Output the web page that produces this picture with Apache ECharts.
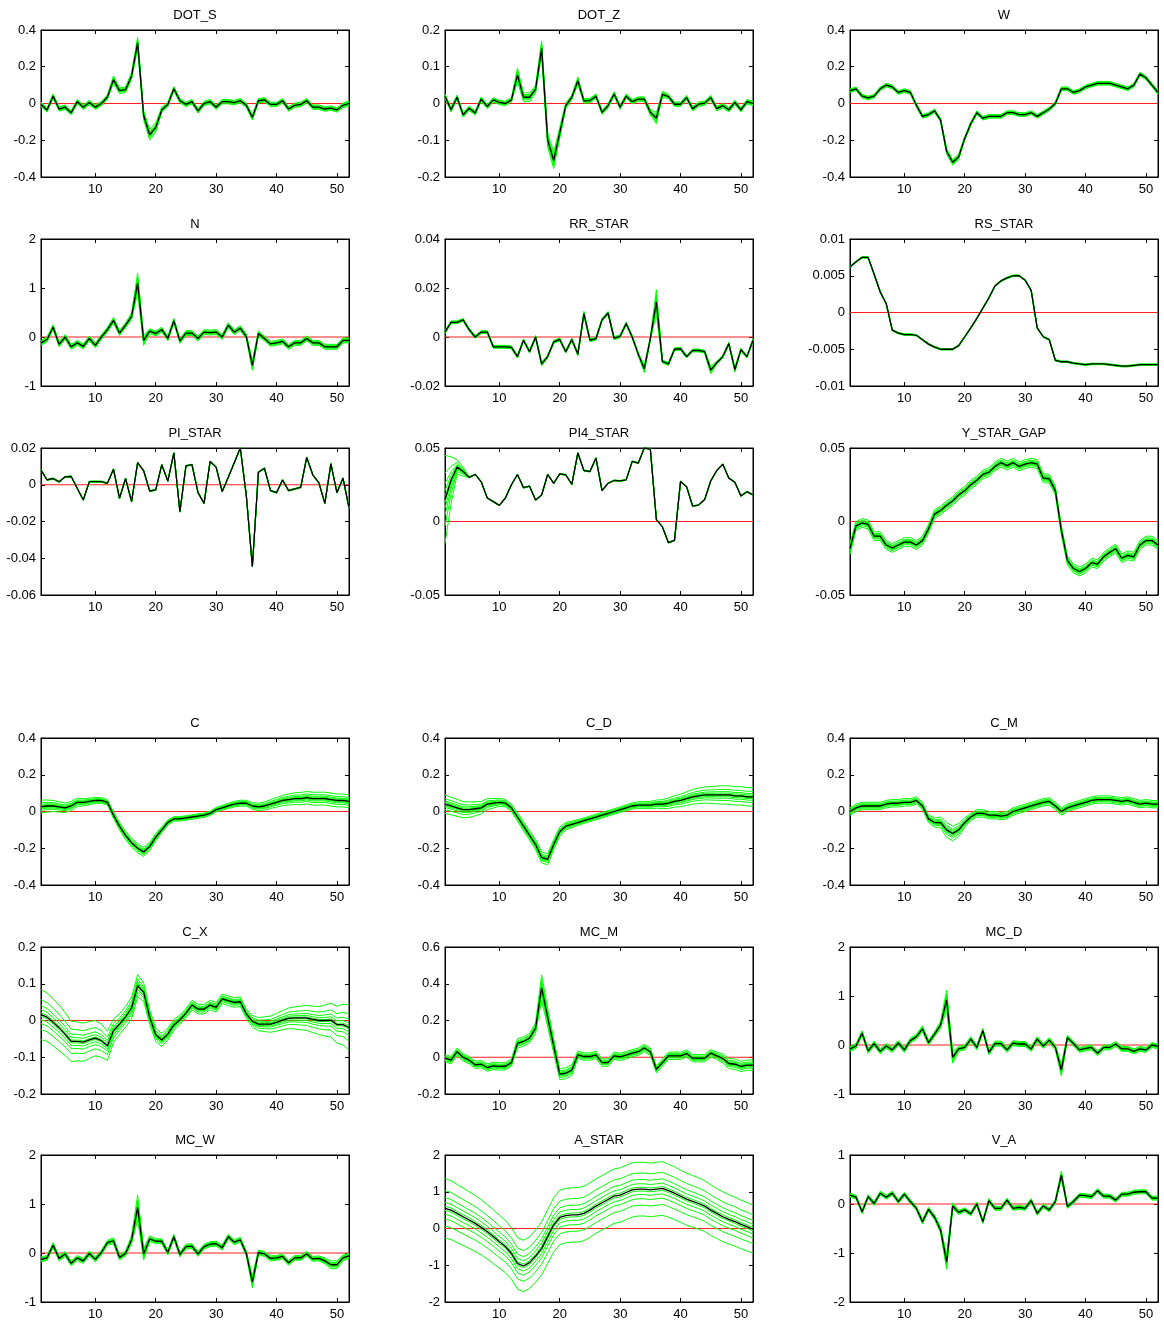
<!DOCTYPE html>
<html>
<head>
<meta charset="utf-8">
<title>IRF panels</title>
<script src="https://cdn.jsdelivr.net/npm/echarts@6.0.0/dist/echarts.min.js"></script>
<style>
  html, body { margin: 0; padding: 0; background: #fff; }
  #main { width: 1164px; height: 1322px; }
</style>
</head>
<body>
<div id="main"></div>
<script>
// periods on the x axis
var steps = [1,2,3,4,5,6,7,8,9,10,
  11,12,13,14,15,16,17,18,19,20,
  21,22,23,24,25,26,27,28,29,30,
  31,32,33,34,35,36,37,38,39,40,
  41,42,43,44,45,46,47,48,49,50,
  51,52];
var xTicks = [10, 20, 30, 40, 50];

// y tick labels for each panel
var ticksDotS = [-0.4, -0.2, 0, 0.2, 0.4];
var ticksDotZ = [-0.2, -0.1, 0, 0.1, 0.2];
var ticksW = [-0.4, -0.2, 0, 0.2, 0.4];
var ticksN = [-1, 0, 1, 2];
var ticksRR = [-0.02, 0, 0.02, 0.04];
var ticksRS = [-0.01, -0.005, 0, 0.005, 0.01];
var ticksPi = [-0.06, -0.04, -0.02, 0, 0.02];
var ticksPi4 = [-0.05, 0, 0.05];
var ticksYsg = [-0.05, 0, 0.05];
var ticksC = [-0.4, -0.2, 0, 0.2, 0.4];
var ticksCD = [-0.4, -0.2, 0, 0.2, 0.4];
var ticksCM = [-0.4, -0.2, 0, 0.2, 0.4];
var ticksCX = [-0.2, -0.1, 0, 0.1, 0.2];
var ticksMcM = [-0.2, 0, 0.2, 0.4, 0.6];
var ticksMcD = [-1, 0, 1, 2];
var ticksMcW = [-1, 0, 1, 2];
var ticksA = [-2, -1, 0, 1, 2];
var ticksVA = [-2, -1, 0, 1];

// median paths (black)
var dotS = [-0.005,-0.035,0.04,-0.03,-0.02,-0.05,0.01,-0.02,0.005,-0.02,
  0,0.035,0.13,0.07,0.075,0.15,0.33,-0.065,-0.17,-0.13,
  -0.035,-0.005,0.08,0.015,-0.005,0.01,-0.04,0,0.01,-0.02,
  0.01,0.01,0.005,0.015,-0.01,-0.075,0.015,0.02,-0.005,-0.005,
  0.015,-0.03,-0.01,-0.005,0.015,-0.02,-0.02,-0.03,-0.025,-0.035,
  -0.01,0];
var dotZ = [0.02,-0.017,0.017,-0.031,-0.013,-0.026,0.012,-0.008,0.01,0.003,
  0,0.01,0.078,0.017,0.017,0.039,0.15,-0.099,-0.155,-0.08,
  -0.006,0.017,0.062,0.007,0.008,0.02,-0.024,-0.006,0.026,-0.01,
  0.02,0.005,0.012,0.012,-0.024,-0.04,0.025,0.019,-0.002,-0.002,
  0.016,-0.014,-0.002,0.001,0.016,-0.014,-0.006,-0.017,0.003,-0.017,
  0.005,0];
var w = [0.07,0.08,0.04,0.03,0.04,0.08,0.1,0.09,0.06,0.07,
  0.06,-0.01,-0.07,-0.06,-0.04,-0.09,-0.26,-0.32,-0.29,-0.19,
  -0.11,-0.05,-0.08,-0.07,-0.07,-0.07,-0.05,-0.05,-0.06,-0.06,
  -0.05,-0.07,-0.05,-0.03,0,0.08,0.08,0.06,0.07,0.09,
  0.1,0.11,0.11,0.11,0.1,0.09,0.08,0.1,0.16,0.14,
  0.1,0.06];
var n = [-0.12,-0.05,0.2,-0.15,0,-0.2,-0.12,-0.19,-0.03,-0.17,
  0,0.15,0.34,0.08,0.24,0.42,1.1,-0.07,0.12,0.07,
  0.15,-0.03,0.33,-0.08,0.08,0.08,-0.03,0.1,0.09,0.1,
  0,0.24,0.1,0.18,0.01,-0.58,0.07,-0.03,-0.14,-0.12,
  -0.09,-0.2,-0.12,-0.12,-0.03,-0.12,-0.12,-0.2,-0.2,-0.2,
  -0.07,-0.07];
var rrStar = [0.002,0.006,0.006,0.007,0.003,0,0.002,0.002,-0.004,-0.004,
  -0.004,-0.0042,-0.008,-0.0013,-0.006,0,-0.011,-0.008,-0.002,-0.001,
  -0.006,-0.001,-0.007,0.0095,-0.0013,-0.0007,0.007,0.0098,-0.0005,0.0003,
  0.0055,0,-0.007,-0.013,-0.0007,0.0143,-0.01,-0.011,-0.005,-0.0048,
  -0.008,-0.0055,-0.0055,-0.006,-0.0135,-0.0105,-0.008,-0.0027,-0.0133,-0.0052,
  -0.008,-0.0013];
var rsStar = [0.0062,0.0069,0.0075,0.0075,0.0052,0.0028,0.0012,-0.0024,-0.0028,-0.003,
  -0.003,-0.0031,-0.0037,-0.0043,-0.0047,-0.005,-0.005,-0.005,-0.0045,-0.0033,
  -0.0021,-0.0008,0.0006,0.002,0.0036,0.0043,0.0047,0.005,0.005,0.0044,
  0.003,-0.0021,-0.0033,-0.0037,-0.0065,-0.0067,-0.0067,-0.0069,-0.007,-0.0071,
  -0.007,-0.007,-0.007,-0.0071,-0.0072,-0.0073,-0.0073,-0.0072,-0.0071,-0.0071,
  -0.0071,-0.0071];
var piStar = [0.008,0.0026,0.0034,0.0016,0.0043,0.0045,-0.0019,-0.0083,0.0017,0.0017,
  0.0017,0.0008,0.0085,-0.0074,0.0034,-0.0092,0.012,0.0076,-0.0034,-0.0028,
  0.0109,0.002,0.0173,-0.0147,0.0103,0.0109,-0.0043,-0.0101,0.0127,0.0096,
  -0.0037,0.004,0.012,0.02,-0.006,-0.0445,0.0068,0.009,-0.0032,-0.0043,
  0.0026,-0.0032,-0.0023,-0.0014,0.0149,0.0054,0.0012,-0.0101,0.0114,-0.0043,
  0.0036,-0.0125];
var pi4Star = [0.015,0.028,0.037,0.034,0.03,0.032,0.027,0.016,0.0135,0.011,
  0.016,0.025,0.032,0.023,0.024,0.0146,0.018,0.032,0.026,0.0324,
  0.0317,0.0253,0.0466,0.0347,0.034,0.0432,0.021,0.026,0.0279,0.0276,
  0.0283,0.0409,0.0397,0.05,0.0493,0.0014,-0.0037,-0.0144,-0.0128,0.0272,
  0.0237,0.0105,0.0112,0.015,0.0276,0.0347,0.039,0.0295,0.0267,0.0174,
  0.0203,0.018];
var yStarGap = [-0.0185,-0.003,-0.001,-0.002,-0.01,-0.01,-0.016,-0.018,-0.016,-0.014,
  -0.014,-0.016,-0.013,-0.005,0.005,0.0075,0.011,0.014,0.018,0.021,
  0.025,0.028,0.032,0.0335,0.0375,0.04,0.038,0.04,0.0375,0.039,
  0.04,0.039,0.0295,0.029,0.021,-0.006,-0.0265,-0.032,-0.034,-0.032,
  -0.028,-0.029,-0.024,-0.021,-0.0185,-0.025,-0.023,-0.024,-0.016,-0.013,
  -0.013,-0.016];
var c = [0.027,0.03,0.03,0.025,0.02,0.03,0.05,0.05,0.055,0.06,
  0.06,0.05,-0.02,-0.08,-0.13,-0.17,-0.2,-0.22,-0.19,-0.14,
  -0.1,-0.06,-0.04,-0.04,-0.035,-0.03,-0.025,-0.02,-0.01,0.01,
  0.02,0.03,0.04,0.045,0.045,0.03,0.025,0.03,0.04,0.05,
  0.06,0.065,0.07,0.07,0.075,0.07,0.07,0.07,0.065,0.06,
  0.06,0.055];
var cD = [0.04,0.03,0.02,0.01,0.01,0.015,0.02,0.04,0.045,0.05,
  0.045,0.02,-0.03,-0.08,-0.13,-0.18,-0.25,-0.26,-0.18,-0.11,
  -0.08,-0.07,-0.06,-0.05,-0.04,-0.03,-0.02,-0.01,0,0.01,
  0.02,0.03,0.035,0.035,0.035,0.04,0.04,0.045,0.055,0.06,
  0.07,0.08,0.085,0.09,0.09,0.09,0.09,0.09,0.085,0.085,
  0.08,0.08];
var cM = [0,0.02,0.03,0.03,0.03,0.03,0.04,0.045,0.045,0.05,
  0.05,0.06,0.03,-0.04,-0.06,-0.06,-0.1,-0.12,-0.1,-0.06,
  -0.03,-0.01,-0.01,-0.02,-0.02,-0.025,-0.02,0,0.01,0.02,
  0.03,0.04,0.05,0.055,0.03,0,0.02,0.03,0.04,0.05,
  0.06,0.065,0.065,0.065,0.06,0.055,0.06,0.05,0.04,0.045,
  0.04,0.04];
var cX = [0.016,0.009,-0.005,-0.02,-0.037,-0.057,-0.057,-0.059,-0.053,-0.048,
  -0.055,-0.069,-0.028,-0.01,0.01,0.034,0.095,0.077,0.009,-0.039,
  -0.053,-0.037,-0.012,0.002,0.02,0.042,0.031,0.031,0.042,0.036,
  0.059,0.054,0.049,0.051,0.018,-0.002,-0.01,-0.01,-0.01,-0.005,
  0.001,0.006,0.007,0.007,0.007,0.003,0,0,0.001,-0.011,
  -0.011,-0.019];
var mcM = [-0.005,-0.016,0.03,0,-0.016,-0.041,-0.038,-0.056,-0.047,-0.05,
  -0.049,-0.029,0.075,0.086,0.104,0.159,0.378,0.217,0.062,-0.092,
  -0.087,-0.07,0.013,0.004,0.004,0.013,-0.029,-0.029,0.008,0.002,
  0.011,0.022,0.03,0.05,0.03,-0.065,-0.029,0.008,0.008,0.008,
  0.02,-0.005,-0.005,-0.005,0.022,0.008,-0.007,-0.034,-0.038,-0.05,
  -0.043,-0.043];
var mcD = [-0.08,-0.02,0.24,-0.12,0.03,-0.13,-0.02,-0.1,0.04,-0.1,
  0.09,0.17,0.33,0.05,0.22,0.41,0.92,-0.25,-0.08,-0.05,
  0.12,-0.05,0.29,-0.15,0.03,0.03,-0.1,0.04,0.02,0.02,
  -0.08,0.12,-0.02,0.1,-0.05,-0.51,0.15,0.03,-0.1,-0.07,
  -0.05,-0.17,-0.05,-0.05,0.02,-0.08,-0.08,-0.13,-0.08,-0.1,
  0,-0.03];
var mcW = [-0.13,-0.1,0.16,-0.11,-0.02,-0.21,-0.1,-0.16,-0.01,-0.13,
  0.01,0.21,0.25,-0.09,-0.01,0.27,0.93,-0.02,0.29,0.24,
  0.24,0.01,0.33,-0.03,0.13,0.14,-0.02,0.13,0.18,0.19,
  0.11,0.33,0.22,0.27,-0.01,-0.59,0.01,-0.02,-0.11,-0.1,
  -0.07,-0.2,-0.1,-0.1,-0.02,-0.12,-0.11,-0.16,-0.24,-0.24,
  -0.1,-0.06];
var aStar = [0.55,0.5,0.41,0.32,0.23,0.14,0.03,-0.09,-0.22,-0.36,
  -0.49,-0.68,-0.95,-1.02,-0.93,-0.75,-0.54,-0.22,0.1,0.3,
  0.35,0.37,0.37,0.41,0.5,0.61,0.7,0.79,0.88,0.91,
  0.98,1.05,1.07,1.07,1.05,1.07,1.09,1.03,0.96,0.88,
  0.8,0.74,0.68,0.61,0.5,0.41,0.32,0.25,0.19,0.11,
  0.05,-0.02];
var vA = [0.18,0.14,-0.16,0.15,0.01,0.22,0.14,0.22,0.05,0.2,
  0.05,-0.09,-0.36,-0.11,-0.27,-0.53,-1.18,-0.04,-0.17,-0.12,
  -0.2,0,-0.36,0.07,-0.09,-0.09,0.08,-0.09,-0.07,-0.09,
  0.07,-0.19,-0.04,-0.12,0.05,0.59,-0.05,0.05,0.18,0.17,
  0.15,0.27,0.16,0.16,0.08,0.2,0.2,0.24,0.25,0.25,
  0.12,0.12];

// half width of the green fan around each median
var dotSW = [0.012,0.012,0.012,0.012,0.012,0.012,0.012,0.012,0.012,0.012,
  0.012,0.012,0.02,0.015,0.015,0.02,0.03,0.025,0.03,0.025,
  0.015,0.012,0.012,0.012,0.012,0.012,0.012,0.012,0.012,0.012,
  0.012,0.012,0.012,0.012,0.012,0.015,0.012,0.012,0.012,0.012,
  0.012,0.012,0.012,0.012,0.012,0.012,0.012,0.012,0.012,0.012,
  0.012,0.015];
var dotZW = [0.006,0.006,0.006,0.006,0.006,0.006,0.006,0.006,0.006,0.006,
  0.006,0.006,0.018,0.012,0.012,0.01,0.02,0.02,0.022,0.015,
  0.008,0.006,0.01,0.006,0.006,0.006,0.006,0.006,0.006,0.006,
  0.006,0.006,0.006,0.006,0.008,0.015,0.008,0.006,0.006,0.006,
  0.006,0.006,0.006,0.006,0.006,0.006,0.006,0.006,0.006,0.006,
  0.006,0.006];
var wW = [0.01,0.01,0.01,0.01,0.01,0.01,0.01,0.01,0.01,0.01,
  0.01,0.01,0.01,0.01,0.01,0.01,0.015,0.015,0.015,0.01,
  0.01,0.01,0.01,0.01,0.01,0.01,0.01,0.01,0.01,0.01,
  0.01,0.01,0.01,0.01,0.01,0.01,0.01,0.01,0.01,0.01,
  0.01,0.01,0.01,0.01,0.01,0.01,0.01,0.01,0.01,0.01,
  0.01,0.01];
var nW = [0.05,0.05,0.05,0.05,0.05,0.05,0.05,0.05,0.05,0.05,
  0.05,0.05,0.06,0.05,0.05,0.07,0.2,0.1,0.05,0.05,
  0.05,0.05,0.05,0.05,0.05,0.05,0.05,0.05,0.05,0.05,
  0.05,0.05,0.05,0.05,0.05,0.1,0.05,0.05,0.05,0.05,
  0.05,0.05,0.05,0.05,0.05,0.05,0.05,0.05,0.05,0.05,
  0.05,0.05];
var rrW = [0.0006,0.0006,0.0006,0.0006,0.0006,0.0006,0.0006,0.0006,0.0006,0.0006,
  0.0006,0.0006,0.0006,0.0006,0.0006,0.0006,0.0008,0.0006,0.0006,0.0006,
  0.0006,0.0006,0.0006,0.001,0.0006,0.0006,0.0006,0.0006,0.0006,0.0006,
  0.0006,0.0006,0.0006,0.0015,0.0006,0.005,0.0006,0.0006,0.0006,0.0006,
  0.0006,0.0006,0.0006,0.0006,0.0015,0.0006,0.0006,0.0006,0.001,0.0006,
  0.0006,0.0006];
var rsW = [0.0001,0.0001,0.0001,0.0001,0.0001,0.0001,0.0001,0.0001,0.0001,0.0001,
  0.0001,0.0001,0.0001,0.0001,0.0001,0.0001,0.0001,0.0001,0.0001,0.0001,
  0.0001,0.0001,0.0001,0.0001,0.0001,0.0001,0.0001,0.0001,0.0001,0.0001,
  0.0001,0.0001,0.0001,0.0001,0.0001,0.0001,0.0001,0.0001,0.0001,0.0001,
  0.0001,0.0001,0.0001,0.0001,0.0001,0.0001,0.0001,0.0001,0.0001,0.0001,
  0.0001,0.0001];
var piW = [0.0003,0.0003,0.0003,0.0003,0.0003,0.0003,0.0003,0.0003,0.0003,0.0003,
  0.0003,0.0003,0.0003,0.0003,0.0003,0.0003,0.0003,0.0003,0.0003,0.0003,
  0.0003,0.0003,0.0003,0.0003,0.0003,0.0003,0.0003,0.0003,0.0003,0.0003,
  0.0003,0.0003,0.0003,0.0003,0.0003,0.0003,0.0003,0.0003,0.0003,0.0003,
  0.0003,0.0003,0.0003,0.0003,0.0003,0.0003,0.0003,0.0003,0.0003,0.0003,
  0.0003,0.0003];
var pi4W = [0.03,0.016,0.005,0.003,0.0003,0.0003,0.0003,0.0003,0.0003,0.0003,
  0.0003,0.0003,0.0003,0.0003,0.0003,0.0003,0.0003,0.0003,0.0003,0.0003,
  0.0003,0.0003,0.0003,0.0003,0.0003,0.0003,0.0003,0.0003,0.0003,0.0003,
  0.0003,0.0003,0.0003,0.0003,0.0003,0.0003,0.0003,0.0003,0.0003,0.0003,
  0.0003,0.0003,0.0003,0.0003,0.0003,0.0003,0.0003,0.0003,0.0003,0.0003,
  0.0003,0.0003];
var ysgW = [0.004,0.003,0.003,0.003,0.003,0.003,0.003,0.003,0.003,0.003,
  0.003,0.003,0.003,0.003,0.003,0.003,0.003,0.003,0.003,0.003,
  0.003,0.003,0.003,0.003,0.003,0.003,0.003,0.003,0.003,0.003,
  0.003,0.003,0.003,0.003,0.003,0.003,0.003,0.003,0.003,0.003,
  0.003,0.003,0.003,0.003,0.003,0.003,0.003,0.003,0.003,0.003,
  0.003,0.003];
var cW = [0.035,0.033,0.03,0.028,0.026,0.024,0.022,0.02,0.018,0.016,
  0.015,0.015,0.018,0.02,0.022,0.025,0.025,0.025,0.022,0.02,
  0.016,0.014,0.012,0.012,0.012,0.012,0.012,0.012,0.012,0.012,
  0.013,0.014,0.015,0.016,0.016,0.018,0.02,0.022,0.024,0.026,
  0.028,0.03,0.032,0.033,0.034,0.035,0.035,0.035,0.035,0.035,
  0.035,0.035];
var cDW = [0.05,0.048,0.046,0.044,0.042,0.038,0.034,0.03,0.026,0.022,
  0.02,0.02,0.022,0.025,0.025,0.028,0.03,0.03,0.028,0.025,
  0.02,0.018,0.016,0.015,0.015,0.015,0.015,0.015,0.015,0.015,
  0.016,0.017,0.018,0.019,0.02,0.022,0.025,0.028,0.031,0.034,
  0.037,0.04,0.042,0.044,0.046,0.048,0.05,0.05,0.05,0.05,
  0.05,0.05];
var cMW = [0.02,0.02,0.02,0.02,0.02,0.02,0.02,0.02,0.02,0.02,
  0.02,0.02,0.02,0.02,0.025,0.03,0.04,0.04,0.035,0.025,
  0.02,0.02,0.02,0.02,0.02,0.02,0.02,0.02,0.02,0.02,
  0.02,0.02,0.02,0.02,0.02,0.02,0.02,0.02,0.02,0.02,
  0.02,0.02,0.02,0.02,0.02,0.02,0.02,0.02,0.02,0.02,
  0.02,0.02];
var cXW = [0.068,0.066,0.064,0.062,0.058,0.055,0.053,0.052,0.05,0.048,
  0.045,0.04,0.032,0.028,0.028,0.03,0.03,0.025,0.02,0.018,
  0.018,0.016,0.015,0.013,0.013,0.013,0.013,0.013,0.013,0.013,
  0.013,0.013,0.013,0.013,0.013,0.016,0.018,0.02,0.022,0.024,
  0.026,0.028,0.03,0.032,0.034,0.036,0.038,0.042,0.046,0.05,
  0.055,0.062];
var mcMW = [0.02,0.02,0.02,0.02,0.02,0.02,0.02,0.02,0.02,0.02,
  0.02,0.02,0.025,0.025,0.025,0.03,0.07,0.05,0.04,0.03,
  0.03,0.03,0.02,0.02,0.02,0.02,0.02,0.02,0.02,0.02,
  0.02,0.02,0.02,0.02,0.02,0.02,0.02,0.02,0.02,0.02,
  0.02,0.02,0.02,0.02,0.02,0.02,0.025,0.028,0.028,0.028,
  0.028,0.028];
var mcDW = [0.05,0.05,0.05,0.05,0.05,0.05,0.05,0.05,0.05,0.05,
  0.05,0.05,0.06,0.05,0.05,0.07,0.2,0.12,0.05,0.05,
  0.05,0.05,0.05,0.05,0.05,0.05,0.05,0.05,0.05,0.05,
  0.05,0.05,0.05,0.05,0.05,0.12,0.05,0.05,0.05,0.05,
  0.05,0.05,0.05,0.05,0.05,0.05,0.05,0.05,0.05,0.05,
  0.05,0.05];
var mcWW = [0.05,0.05,0.05,0.05,0.05,0.05,0.05,0.05,0.05,0.05,
  0.05,0.05,0.06,0.05,0.05,0.08,0.25,0.12,0.06,0.05,
  0.05,0.05,0.05,0.05,0.05,0.05,0.05,0.05,0.05,0.05,
  0.05,0.05,0.05,0.05,0.05,0.12,0.05,0.05,0.05,0.05,
  0.05,0.05,0.05,0.05,0.05,0.05,0.05,0.06,0.08,0.08,
  0.06,0.05];
var aStarW = [0.81,0.8,0.79,0.78,0.77,0.76,0.75,0.74,0.73,0.72,
  0.71,0.7,0.7,0.7,0.7,0.71,0.72,0.73,0.74,0.74,
  0.74,0.74,0.74,0.74,0.74,0.74,0.74,0.74,0.74,0.74,
  0.74,0.74,0.73,0.73,0.73,0.73,0.73,0.72,0.72,0.71,
  0.71,0.7,0.7,0.69,0.69,0.68,0.68,0.67,0.67,0.66,
  0.66,0.65];
var vAW = [0.04,0.04,0.04,0.04,0.04,0.04,0.04,0.04,0.04,0.04,
  0.04,0.04,0.05,0.04,0.05,0.06,0.15,0.06,0.04,0.04,
  0.04,0.04,0.04,0.04,0.04,0.04,0.04,0.04,0.04,0.04,
  0.04,0.04,0.04,0.04,0.04,0.08,0.04,0.04,0.04,0.04,
  0.04,0.04,0.04,0.04,0.04,0.04,0.04,0.04,0.04,0.04,
  0.04,0.04];

var panels = [
  {title: 'DOT_S', y: dotS, w: dotSW, ticks: ticksDotS},
  {title: 'DOT_Z', y: dotZ, w: dotZW, ticks: ticksDotZ},
  {title: 'W', y: w, w: wW, ticks: ticksW},
  {title: 'N', y: n, w: nW, ticks: ticksN},
  {title: 'RR_STAR', y: rrStar, w: rrW, ticks: ticksRR},
  {title: 'RS_STAR', y: rsStar, w: rsW, ticks: ticksRS},
  {title: 'PI_STAR', y: piStar, w: piW, ticks: ticksPi},
  {title: 'PI4_STAR', y: pi4Star, w: pi4W, ticks: ticksPi4},
  {title: 'Y_STAR_GAP', y: yStarGap, w: ysgW, ticks: ticksYsg},
  {title: 'C', y: c, w: cW, ticks: ticksC},
  {title: 'C_D', y: cD, w: cDW, ticks: ticksCD},
  {title: 'C_M', y: cM, w: cMW, ticks: ticksCM},
  {title: 'C_X', y: cX, w: cXW, ticks: ticksCX},
  {title: 'MC_M', y: mcM, w: mcMW, ticks: ticksMcM},
  {title: 'MC_D', y: mcD, w: mcDW, ticks: ticksMcD},
  {title: 'MC_W', y: mcW, w: mcWW, ticks: ticksMcW},
  {title: 'A_STAR', y: aStar, w: aStarW, ticks: ticksA},
  {title: 'V_A', y: vA, w: vAW, ticks: ticksVA}
];

var colLeft = [41, 445, 850];
var rowTop = [30, 239, 448, 738, 947, 1155];
var boxW = 308, boxH = 147;
var fanLevels = [-1, -0.6, -0.36, -0.2, -0.07, 0.07, 0.2, 0.36, 0.6, 1];
var font = '"Liberation Sans", Arial, Helvetica, sans-serif';

var myChart = echarts.init(document.getElementById('main'));

var grids = [], xAxes = [], yAxes = [], series = [], texts = [];

panels.forEach(function (p, k) {
  var left = colLeft[k % 3];
  var top = rowTop[Math.floor(k / 3)];
  var yMin = p.ticks[0], yMax = p.ticks[p.ticks.length - 1];

  grids.push({left: left, top: top, width: boxW, height: boxH,
    show: true, borderColor: '#000', borderWidth: 1});

  // bottom + mirrored top x axis
  ['bottom', 'top'].forEach(function (pos) {
    xAxes.push({
      gridIndex: k, type: 'value', min: 1, max: 52, position: pos,
      axisLine: {show: true, onZero: false, lineStyle: {color: '#000', width: 1}},
      axisTick: {show: true, inside: true, length: 4, customValues: xTicks, lineStyle: {color: '#000'}},
      axisLabel: {show: pos === 'bottom', customValues: xTicks, margin: 6,
        fontSize: 13, color: '#000', fontFamily: font},
      splitLine: {show: false}
    });
  });
  // left + mirrored right y axis
  ['left', 'right'].forEach(function (pos) {
    yAxes.push({
      gridIndex: k, type: 'value', min: yMin, max: yMax, position: pos,
      axisLine: {show: true, onZero: false, lineStyle: {color: '#000', width: 1}},
      axisTick: {show: true, inside: true, length: 4, customValues: p.ticks, lineStyle: {color: '#000'}},
      axisLabel: {show: pos === 'left', customValues: p.ticks, margin: 5,
        fontSize: 13, color: '#000', fontFamily: font},
      splitLine: {show: false}
    });
  });

  var xi = 2 * k, yi = 2 * k;

  // zero line
  series.push({
    type: 'line', xAxisIndex: xi, yAxisIndex: yi, silent: true,
    data: [[steps[0], 0], [steps[steps.length - 1], 0]],
    symbol: 'none', lineStyle: {color: '#ff2020', width: 1.2}, z: 1
  });

  // green fan lines
  fanLevels.forEach(function (lev) {
    series.push({
      type: 'line', xAxisIndex: xi, yAxisIndex: yi, silent: true,
      data: steps.map(function (s, i) { return [s, p.y[i] + lev * p.w[i]]; }),
      symbol: 'none', lineStyle: {color: '#00ff00', width: 1}, z: 2
    });
  });

  // median
  series.push({
    type: 'line', xAxisIndex: xi, yAxisIndex: yi, silent: true,
    data: steps.map(function (s, i) { return [s, p.y[i]]; }),
    symbol: 'none', lineStyle: {color: '#000', width: 1.3}, z: 3
  });

  texts.push({
    type: 'text', x: left + boxW / 2, y: top - 15,
    style: {text: p.title, fill: '#000', font: '13px ' + font,
      align: 'center', verticalAlign: 'middle'}
  });
});

var option = {
  animation: false,
  backgroundColor: '#fff',
  grid: grids,
  xAxis: xAxes,
  yAxis: yAxes,
  series: series,
  graphic: texts
};

myChart.setOption(option);
</script>
</body>
</html>
